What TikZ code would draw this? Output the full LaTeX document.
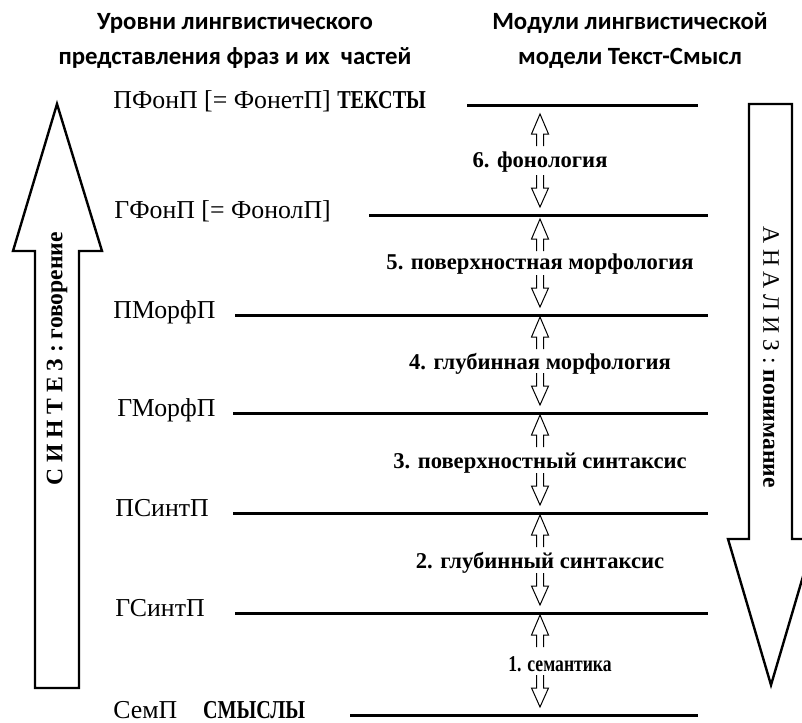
\documentclass[tikz,border=0pt]{standalone}
\usepackage{fontspec}
\setmainfont{Liberation Serif}
\newfontfamily\hdrfont{Carlito}
\newfontfamily\narrowfont{Liberation Serif}[FakeStretch=0.78]
\usepackage{tikz}
\usetikzlibrary{positioning}
\tikzset{level/.style={line width=1.5pt},
	lvlname/.style={anchor=base west,inner sep=0pt,font=\fontsize{12.9}{15}\selectfont},
	module/.style={inner sep=0pt,font=\bfseries\fontsize{11.3}{13}\selectfont},
	header/.style={inner sep=0pt,align=center,font=\hdrfont\bfseries\fontsize{12.4}{17.5}\selectfont},
	bigarrow/.style={line width=1.2pt,line join=miter},
	modarrow/.style={line width=0.5pt},
	uparr/.pic={\draw[modarrow] (-3.5,32) -- (-3.5,20) -- (-8.5,20) -- (0,0) -- (8.5,20) -- (3.5,20) -- (3.5,32);},
	downarr/.pic={\draw[modarrow] (-3.5,-32) -- (-3.5,-19) -- (-8.5,-19) -- (0,0) -- (8.5,-19) -- (3.5,-19) -- (3.5,-32);}}
\newcommand{\narrowbf}[1]{{\narrowfont\bfseries #1}}
\begin{document}
\begin{tikzpicture}
		[x=0.5pt,y=-0.5pt]
		\useasboundingbox (0,0) rectangle (802,722);
		% headers
		\node[header] (hl) at (235,41){Уровни лингвистического\\представления фраз и их\ \ частей};
		\node[header] (hr) at (630,41){Модули лингвистической\\модели Текст-Смысл};
		% big arrows
		\draw[bigarrow] (35,688) -- (35,251) -- (13,251) -- (57,104) -- (102,251) -- (79,251) -- (79,688) -- cycle;
		\draw[bigarrow] (749,104) -- (749,539) -- (728,539) -- (771,685) -- (814,539) -- (792,539) -- (792,104) -- cycle;
		\node[rotate=90,inner sep=0pt,font=\bfseries\fontsize{11.8}{14}\selectfont] (syn) at (57,359){С И Н Т Е З : говорение};
		\node[rotate=-90,inner sep=0pt,font=\fontsize{11.8}{14}\selectfont] (ana) at (771,357){А Н А Л И З : \textbf{понимание}};
		% levels
		\node[lvlname] (l7) at (113,109){ПФонП [= ФонетП] \narrowbf{ТЕКСТЫ}};
		\node[lvlname] (l6) at (114,218){ГФонП [= ФонолП]};
		\node[lvlname] (l5) at (113,318){ПМорфП};
		\node[lvlname] (l4) at (117,416){ГМорфП};
		\node[lvlname] (l3) at (115,516){ПСинтП};
		\node[lvlname] (l2) at (115,616){ГСинтП};
		\node[lvlname] (l1) at (113,718){СемП\quad\narrowbf{СМЫСЛЫ}};
		\coordinate (a7) at (467,106); \coordinate (b7) at (698,106);
		\coordinate (a6) at (369,215); \coordinate (b6) at (708,215);
		\coordinate (a5) at (235,315); \coordinate (b5) at (708,315);
		\coordinate (a4) at (233,413); \coordinate (b4) at (708,413);
		\coordinate (a3) at (233,513); \coordinate (b3) at (708,513);
		\coordinate (a2) at (235,613); \coordinate (b2) at (708,613);
		\coordinate (a1) at (350,715); \coordinate (b1) at (698,715);
		\draw[level] (a7) -- (b7);
		\draw[level] (a6) -- (b6);
		\draw[level] (a5) -- (b5);
		\draw[level] (a4) -- (b4);
		\draw[level] (a3) -- (b3);
		\draw[level] (a2) -- (b2);
		\draw[level] (a1) -- (b1);
		% modules
		\node[module] (m6) at (540,162){6. фонология};
		\node[module] (m5) at (540,264){5. поверхностная морфология};
		\node[module] (m4) at (540,364){4. глубинная морфология};
		\node[module] (m3) at (540,463){3. поверхностный синтаксис};
		\node[module] (m2) at (540,563){2. глубинный синтаксис};
		\node[module] (m1) at (560,664){\narrowbf{1. семантика}};
		\pic at (540,114) {uparr}; \pic at (540,207) {downarr};
		\pic at (540,219) {uparr}; \pic at (540,307) {downarr};
		\pic at (540,317) {uparr}; \pic at (540,405) {downarr};
		\pic at (540,415) {uparr}; \pic at (540,505) {downarr};
		\pic at (540,515) {uparr}; \pic at (540,605) {downarr};
		\pic at (540,615) {uparr}; \pic at (540,707) {downarr};
		\end{tikzpicture}
\end{document}
